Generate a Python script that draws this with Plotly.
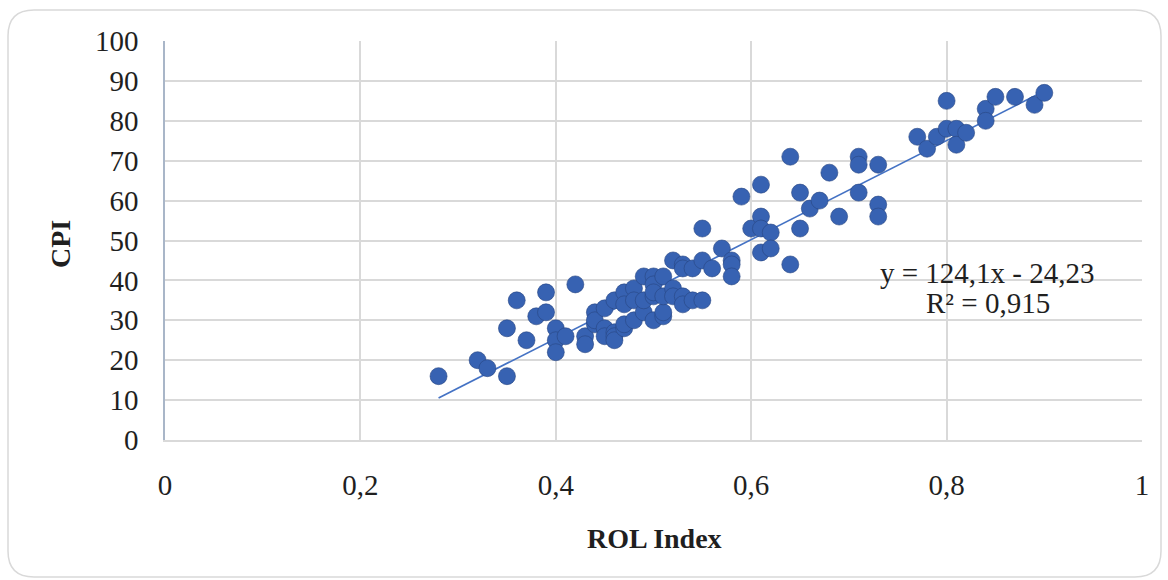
import plotly.graph_objects as go

# ---- data ----
rol_index = [
    0.28, 0.32, 0.33, 0.35, 0.35, 0.36, 0.37, 0.38, 0.39, 0.39,
    0.40, 0.40, 0.40, 0.41, 0.42, 0.43, 0.43, 0.44, 0.44, 0.44,
    0.45, 0.45, 0.45, 0.46, 0.46, 0.46, 0.46, 0.47, 0.47, 0.47,
    0.47, 0.48, 0.48, 0.48, 0.49, 0.49, 0.49, 0.50, 0.50, 0.50,
    0.50, 0.50, 0.51, 0.51, 0.51, 0.51, 0.52, 0.52, 0.52, 0.53,
    0.53, 0.53, 0.53, 0.54, 0.54, 0.55, 0.55, 0.55, 0.56, 0.57,
    0.58, 0.58, 0.58, 0.59, 0.60, 0.61, 0.61, 0.61, 0.61, 0.62,
    0.62, 0.64, 0.64, 0.65, 0.65, 0.66, 0.67, 0.68, 0.69, 0.71,
    0.71, 0.71, 0.73, 0.73, 0.73, 0.77, 0.78, 0.79, 0.80, 0.80,
    0.81, 0.81, 0.82, 0.84, 0.84, 0.85, 0.87, 0.89, 0.90,
]
cpi = [
    16, 20, 18, 16, 28, 35, 25, 31, 32, 37,
    28, 25, 22, 26, 39, 26, 24, 32, 29, 30,
    33, 28, 26, 35, 27, 26, 25, 37, 34, 28,
    29, 38, 35, 30, 41, 32, 35, 41, 39, 36,
    30, 37, 41, 31, 32, 36, 45, 38, 36, 44,
    36, 34, 43, 43, 35, 53, 45, 35, 43, 48,
    45, 44, 41, 61, 53, 64, 56, 53, 47, 52,
    48, 71, 44, 62, 53, 58, 60, 67, 56, 71,
    69, 62, 69, 59, 56, 76, 73, 76, 85, 78,
    78, 74, 77, 83, 80, 86, 86, 84, 87,
]

# trendline as printed on the chart
slope = 124.1
intercept = -24.23
eq_text = "y = 124,1x - 24,23"
r2_text = "R² = 0,915"

x_title = "ROL Index"
y_title = "CPI"

# ---- geometry helpers (pixel -> paper) ----
W, H = 1168, 580
ML, MR, MT, MB = 165, 26, 41, 140
PW, PH = W - ML - MR, H - MT - MB


def px(x):
    return (x - ML) / PW


def py(y):
    return (H - MB - y) / PH


FONT = "Liberation Serif"
TXT = "#1f1f1f"
GRID = "#D9D9D9"
MARK = "#3762B2"
LINE = "#4472C4"

xmin, xmax = min(rol_index), max(rol_index)
trend_x = [xmin, xmax]
trend_y = [slope * v + intercept for v in trend_x]

fig = go.Figure()
fig.add_trace(go.Scatter(
    x=trend_x, y=trend_y, mode="lines",
    line=dict(color=LINE, width=1.7), hoverinfo="skip", showlegend=False,
))
fig.add_trace(go.Scatter(
    x=rol_index, y=cpi, mode="markers",
    marker=dict(size=17, color=MARK, line=dict(width=1, color="rgba(40,70,130,0.6)")),
    showlegend=False,
))

# rounded outer border
l, t, r, b, rad = 8, 10, 1161, 577, 26
path = (
    f"M {px(l + rad)},{py(t)} L {px(r - rad)},{py(t)} "
    f"Q {px(r)},{py(t)} {px(r)},{py(t + rad)} "
    f"L {px(r)},{py(b - rad)} Q {px(r)},{py(b)} {px(r - rad)},{py(b)} "
    f"L {px(l + rad)},{py(b)} Q {px(l)},{py(b)} {px(l)},{py(b - rad)} "
    f"L {px(l)},{py(t + rad)} Q {px(l)},{py(t)} {px(l + rad)},{py(t)} Z"
)


def ann(text, x, y, size, angle=0):
    return dict(text=text, x=px(x), y=py(y), xref="paper", yref="paper",
                xanchor="center", yanchor="middle", textangle=angle,
                showarrow=False, font=dict(size=size, family=FONT, color=TXT))


fig.update_layout(
    width=W, height=H,
    margin=dict(l=ML, r=MR, t=MT, b=MB),
    paper_bgcolor="white", plot_bgcolor="white",
    separators=", ",
    font=dict(family=FONT, color=TXT, size=29),
    shapes=[dict(type="path", path=path, xref="paper", yref="paper",
                 line=dict(color="#D9D9D9", width=1.5), layer="below")],
    annotations=[
        ann(f"<b>{y_title}</b>", 60, 244, 28, -90),
        ann(f"<b>{x_title}</b>", 654, 538, 28),
        ann(eq_text, 987, 273, 29),
        ann(r2_text, 988, 303, 29),
    ],
)
fig.update_xaxes(
    range=[0, 1], dtick=0.2, tick0=0, showgrid=True, gridcolor=GRID, gridwidth=1.5,
    zeroline=False, showline=True, linecolor=GRID, linewidth=1.5, mirror=False,
    ticks="outside", ticklen=18, tickcolor="rgba(0,0,0,0)",
    tickfont=dict(size=29, family=FONT, color=TXT), fixedrange=True,
)
fig.update_yaxes(
    range=[0, 100], dtick=10, tick0=0, showgrid=True, gridcolor=GRID, gridwidth=1.5,
    zeroline=False, showline=True, linecolor="#A9B6C8", linewidth=1.5,
    ticks="outside", ticklen=19, tickcolor="rgba(0,0,0,0)",
    tickfont=dict(size=29, family=FONT, color=TXT), fixedrange=True,
)

fig.write_html("out.html", post_script="document.body.style.margin='0';",
               config={"displayModeBar": False})
